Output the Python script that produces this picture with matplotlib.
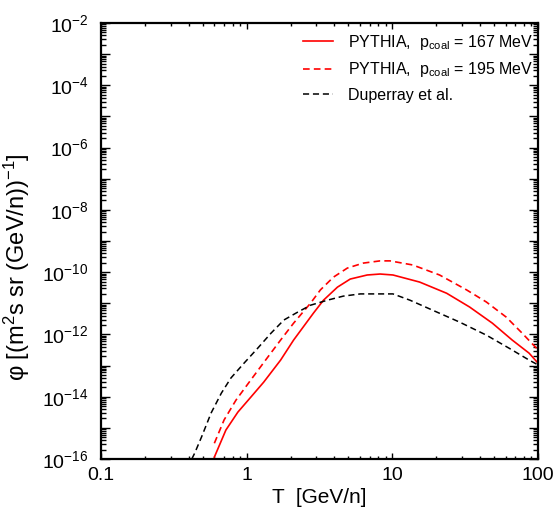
import numpy as np
import matplotlib
matplotlib.use("Agg")
import matplotlib.pyplot as plt
from matplotlib.ticker import LogLocator, FuncFormatter, NullFormatter

plt.rcParams['font.family'] = ['Liberation Sans', 'DejaVu Sans']
plt.rcParams['mathtext.fontset'] = 'custom'
plt.rcParams['mathtext.rm'] = 'Liberation Sans'
plt.rcParams['mathtext.it'] = 'Liberation Sans:italic'
plt.rcParams['mathtext.default'] = 'regular'

# PYTHIA, p_coal = 167 MeV
T_167 = [0.6, 0.72, 0.87, 1.07, 1.31, 1.71, 2.1, 2.88, 3.37, 4.2, 5.14,
         6.72, 8.24, 10.1, 15.4, 23.6, 33.9, 48.6, 66.5, 86.9, 100]
phi_167 = [1.15e-16, 8.5e-16, 3.2e-15, 9.8e-15, 2.95e-14, 1.5e-13, 6.6e-13,
           4.9e-12, 1.26e-11, 3.3e-11, 6.0e-11, 8.1e-11, 8.7e-11, 8.1e-11,
           4.8e-11, 2.1e-11, 7.6e-12, 2.3e-12, 6.6e-13, 2.5e-13, 1.2e-13]

# PYTHIA, p_coal = 195 MeV
T_195 = [0.6, 0.7, 0.845, 1.07, 1.4, 1.71, 2.1, 2.75, 3.21, 3.94, 4.91,
         6.31, 8.24, 9.64, 13.8, 21.1, 32.3, 44.2, 60.5, 77.8, 100]
phi_195 = [3.2e-16, 1.8e-15, 7.8e-15, 3.5e-14, 1.9e-13, 6.6e-13, 2.3e-12,
           1.02e-11, 2.7e-11, 6.9e-11, 1.35e-10, 1.95e-10, 2.3e-10, 2.3e-10,
           1.7e-10, 8.1e-11, 2.7e-11, 1.1e-11, 3.6e-12, 1.1e-12, 3.2e-13]

# Duperray et al.
T_dup = [0.42, 0.44, 0.49, 0.57, 0.67, 0.78, 0.96, 1.19, 1.47, 1.80, 2.24,
         2.75, 3.59, 4.61, 6.03, 8.24, 10.1, 13.2, 18.9, 28.9, 44.2, 63.4,
         86.9, 100]
phi_dup = [1.0e-16, 1.55e-16, 5.1e-16, 3.0e-15, 1.3e-14, 4.0e-14, 1.2e-13,
           3.6e-13, 1.1e-12, 2.9e-12, 5.2e-12, 8.7e-12, 1.26e-11, 1.7e-11,
           2.0e-11, 2.0e-11, 2.0e-11, 1.26e-11, 6.0e-12, 2.5e-12, 9.5e-13,
           3.6e-13, 1.5e-13, 1.05e-13]

labels = ['PYTHIA,  p$_{\\rm coal}$ = 167 MeV',
          'PYTHIA,  p$_{\\rm coal}$ = 195 MeV',
          'Duperray et al.']

W, H = 555, 508
fig = plt.figure(figsize=(W / 100, H / 100), dpi=100)
ax = fig.add_axes([101 / W, 1 - 459 / H, 437 / W, 436 / H])

ax.plot(T_167, phi_167, color='#ff0000', lw=1.2, label=labels[0])
ax.plot(T_195, phi_195, color='#ff0000', lw=1.2, dashes=(4, 2.5), label=labels[1])
ax.plot(T_dup, phi_dup, color='black', lw=1.1, dashes=(4, 2.5), label=labels[2])

ax.set_xscale('log')
ax.set_yscale('log')
ax.set_xlim(0.1, 100)
ax.set_ylim(1e-16, 1e-2)

ax.xaxis.set_major_locator(LogLocator(base=10, numticks=20))
ax.xaxis.set_minor_locator(LogLocator(base=10, subs=np.arange(2, 10), numticks=50))
ax.xaxis.set_major_formatter(FuncFormatter(lambda v, p: '%g' % v))
ax.xaxis.set_minor_formatter(NullFormatter())

def ylab(v, p):
    e = int(round(np.log10(v)))
    return '$10^{%d}$' % e if e % 2 == 0 else ''

ax.yaxis.set_major_locator(LogLocator(base=10, numticks=30))
ax.yaxis.set_minor_locator(LogLocator(base=10, subs=np.arange(2, 10), numticks=200))
ax.yaxis.set_major_formatter(FuncFormatter(ylab))
ax.yaxis.set_minor_formatter(NullFormatter())

ax.tick_params(axis='both', which='both', direction='in', top=True, right=True,
               width=1.0, labelsize=14)
ax.tick_params(axis='x', which='major', length=4.5, pad=6)
ax.tick_params(axis='x', which='minor', length=2.3)
ax.tick_params(axis='y', which='major', length=6.5, pad=9)
ax.tick_params(axis='y', which='minor', length=3.4)
for s in ax.spines.values():
    s.set_linewidth(1.6)

ax.set_xlabel('T  [GeV/n]', fontsize=15)
ax.xaxis.set_label_coords(0.5, -0.066)
ax.set_ylabel('\u03c6 [(m$^2$s sr (GeV/n))$^{-1}$]', fontsize=17)
ax.yaxis.set_label_coords(-0.158, 0.44)

leg = ax.legend(loc='upper left', bbox_to_anchor=((303 - 101) / 437, (459 - 33) / 436),
                frameon=False, fontsize=11.5, handlelength=1.9, handletextpad=0.9,
                labelspacing=0.52, borderpad=0, borderaxespad=0)

fig.savefig('out.png', dpi=100)
